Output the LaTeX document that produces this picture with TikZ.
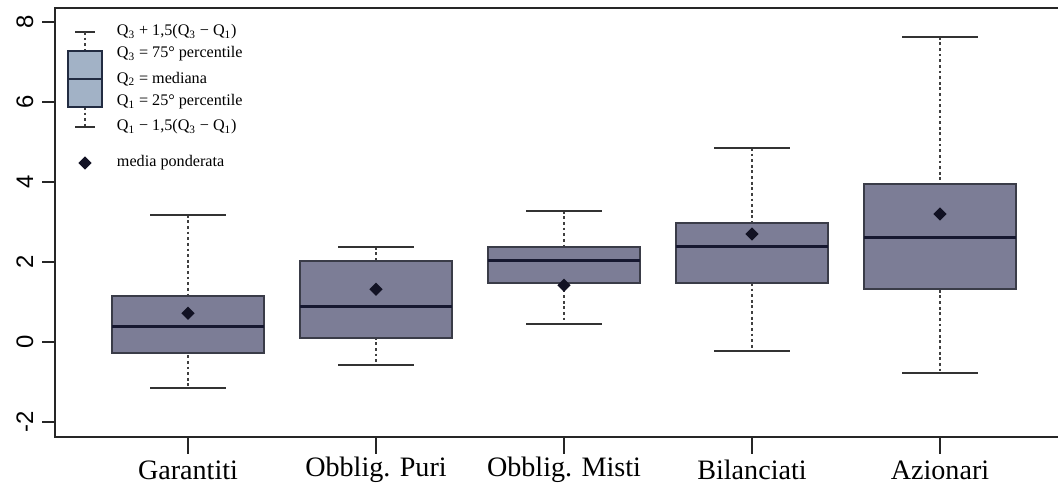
\documentclass[tikz,border=0pt]{standalone}
\usepackage{fontspec}
\setmainfont{Liberation Serif}
\newfontfamily\ticksans{Liberation Sans}
\usetikzlibrary{shapes.geometric}
\definecolor{boxfill}{RGB}{124,125,150}
\definecolor{boxline}{RGB}{58,60,72}
\definecolor{medline}{RGB}{22,24,48}
\definecolor{meancol}{RGB}{18,18,36}
\definecolor{legfill}{RGB}{162,178,198}
\definecolor{legline}{RGB}{34,44,66}

\begin{document}
\begin{tikzpicture}[box/.style={draw=boxline, line width=1.4pt, fill=boxfill},
	medianline/.style={draw=medline, line width=2.2pt},
	whisk/.style={draw=black!75, line width=1pt, dash pattern=on 2pt off 2pt},
	wcap/.style={draw=black!80, line width=1.3pt},
	wmean/.style={diamond, fill=meancol, inner sep=0pt, minimum size=0.34cm},
	ticklab/.style={rotate=90, font=\ticksans\fontsize{17}{17}\selectfont},
	catlab/.style={font=\fontsize{20}{22}\selectfont},
	leglab/.style={anchor=west, font=\fontsize{11.5}{13}\selectfont}]
	\useasboundingbox (0,-3.7) rectangle (26.45,8.55);
	% frame and axes
	\draw[line width=1.4pt, color=black!85] (1.375,-2.375) rectangle (26.6,8.35);
	\foreach \v in {-2,0,2,4,6,8}
	  \draw[line width=1.2pt, color=black!85] (1.375,\v) -- (1.05,\v);
	\node[ticklab] (t8) at (0.62,8) {8};
	\node[ticklab] (t6) at (0.62,6) {6};
	\node[ticklab] (t4) at (0.62,4) {4};
	\node[ticklab] (t2) at (0.62,2) {2};
	\node[ticklab] (t0) at (0.62,0) {0};
	\node[ticklab] (tm2) at (0.62,-2) {-2};
	\foreach \x in {4.7,9.4,14.1,18.8,23.5}
	  \draw[line width=1.2pt, color=black!85] (\x,-2.375) -- (\x,-2.8);
	\node[catlab] (garantiti) at (4.7,-3.2) {Garantiti};
	\node[catlab] (puri) at (9.4,-3.2) {Obblig. Puri};
	\node[catlab] (misti) at (14.1,-3.2) {Obblig. Misti};
	\node[catlab] (bilanciati) at (18.8,-3.2) {Bilanciati};
	\node[catlab] (azionari) at (23.5,-3.2) {Azionari};
	% legend
	\draw[wcap] (1.875,7.75) -- (2.375,7.75);
	\draw[whisk] (2.125,7.75) -- (2.125,7.275);
	\draw[whisk] (2.125,5.875) -- (2.125,5.375);
	\draw[wcap] (1.875,5.375) -- (2.375,5.375);
	\draw[draw=legline, line width=1.4pt, fill=legfill] (1.7,5.875) rectangle (2.55,7.275);
	\draw[draw=legline, line width=1.6pt] (1.7,6.575) -- (2.55,6.575);
	\node[wmean] (legmean) at (2.125,4.475) {};
	\node[leglab] (lupper) at (2.8,7.75) {Q\textsubscript{3} + 1,5(Q\textsubscript{3} − Q\textsubscript{1})};
	\node[leglab] (lq3) at (2.8,7.2) {Q\textsubscript{3} = 75° percentile};
	\node[leglab] (lq2) at (2.8,6.575) {Q\textsubscript{2} = mediana};
	\node[leglab] (lq1) at (2.8,6.0) {Q\textsubscript{1} = 25° percentile};
	\node[leglab] (llower) at (2.8,5.375) {Q\textsubscript{1} − 1,5(Q\textsubscript{3} − Q\textsubscript{1})};
	\node[leglab] (lmean) at (2.8,4.475) {media ponderata};
	% Garantiti
	\draw[whisk] (4.7,3.18) -- (4.7,-1.15);
	\draw[wcap] (3.75,3.18) -- (5.65,3.18);
	\draw[wcap] (3.75,-1.15) -- (5.65,-1.15);
	\draw[box] (2.81,-0.28) rectangle (6.59,1.15);
	\draw[medianline] (2.81,0.38) -- (6.59,0.38);
	\node[wmean] (mgar) at (4.7,0.72) {};
	% Obblig. Puri
	\draw[whisk] (9.4,2.38) -- (9.4,-0.58);
	\draw[wcap] (8.45,2.38) -- (10.35,2.38);
	\draw[wcap] (8.45,-0.58) -- (10.35,-0.58);
	\draw[box] (7.51,0.1) rectangle (11.29,2.03);
	\draw[medianline] (7.51,0.88) -- (11.29,0.88);
	\node[wmean] (mpur) at (9.4,1.32) {};
	% Obblig. Misti
	\draw[whisk] (14.1,3.28) -- (14.1,0.45);
	\draw[wcap] (13.15,3.28) -- (15.05,3.28);
	\draw[wcap] (13.15,0.45) -- (15.05,0.45);
	\draw[box] (12.21,1.47) rectangle (15.99,2.38);
	\draw[medianline] (12.21,2.03) -- (15.99,2.03);
	\node[wmean] (mmis) at (14.1,1.42) {};
	% Bilanciati
	\draw[whisk] (18.8,4.85) -- (18.8,-0.22);
	\draw[wcap] (17.85,4.85) -- (19.75,4.85);
	\draw[wcap] (17.85,-0.22) -- (19.75,-0.22);
	\draw[box] (16.91,1.48) rectangle (20.69,2.97);
	\draw[medianline] (16.91,2.38) -- (20.69,2.38);
	\node[wmean] (mbil) at (18.8,2.7) {};
	% Azionari
	\draw[whisk] (23.5,7.63) -- (23.5,-0.77);
	\draw[wcap] (22.55,7.63) -- (24.45,7.63);
	\draw[wcap] (22.55,-0.77) -- (24.45,-0.77);
	\draw[box] (21.61,1.32) rectangle (25.39,3.95);
	\draw[medianline] (21.61,2.62) -- (25.39,2.62);
	\node[wmean] (mazi) at (23.5,3.2) {};
\end{tikzpicture}
\end{document}
